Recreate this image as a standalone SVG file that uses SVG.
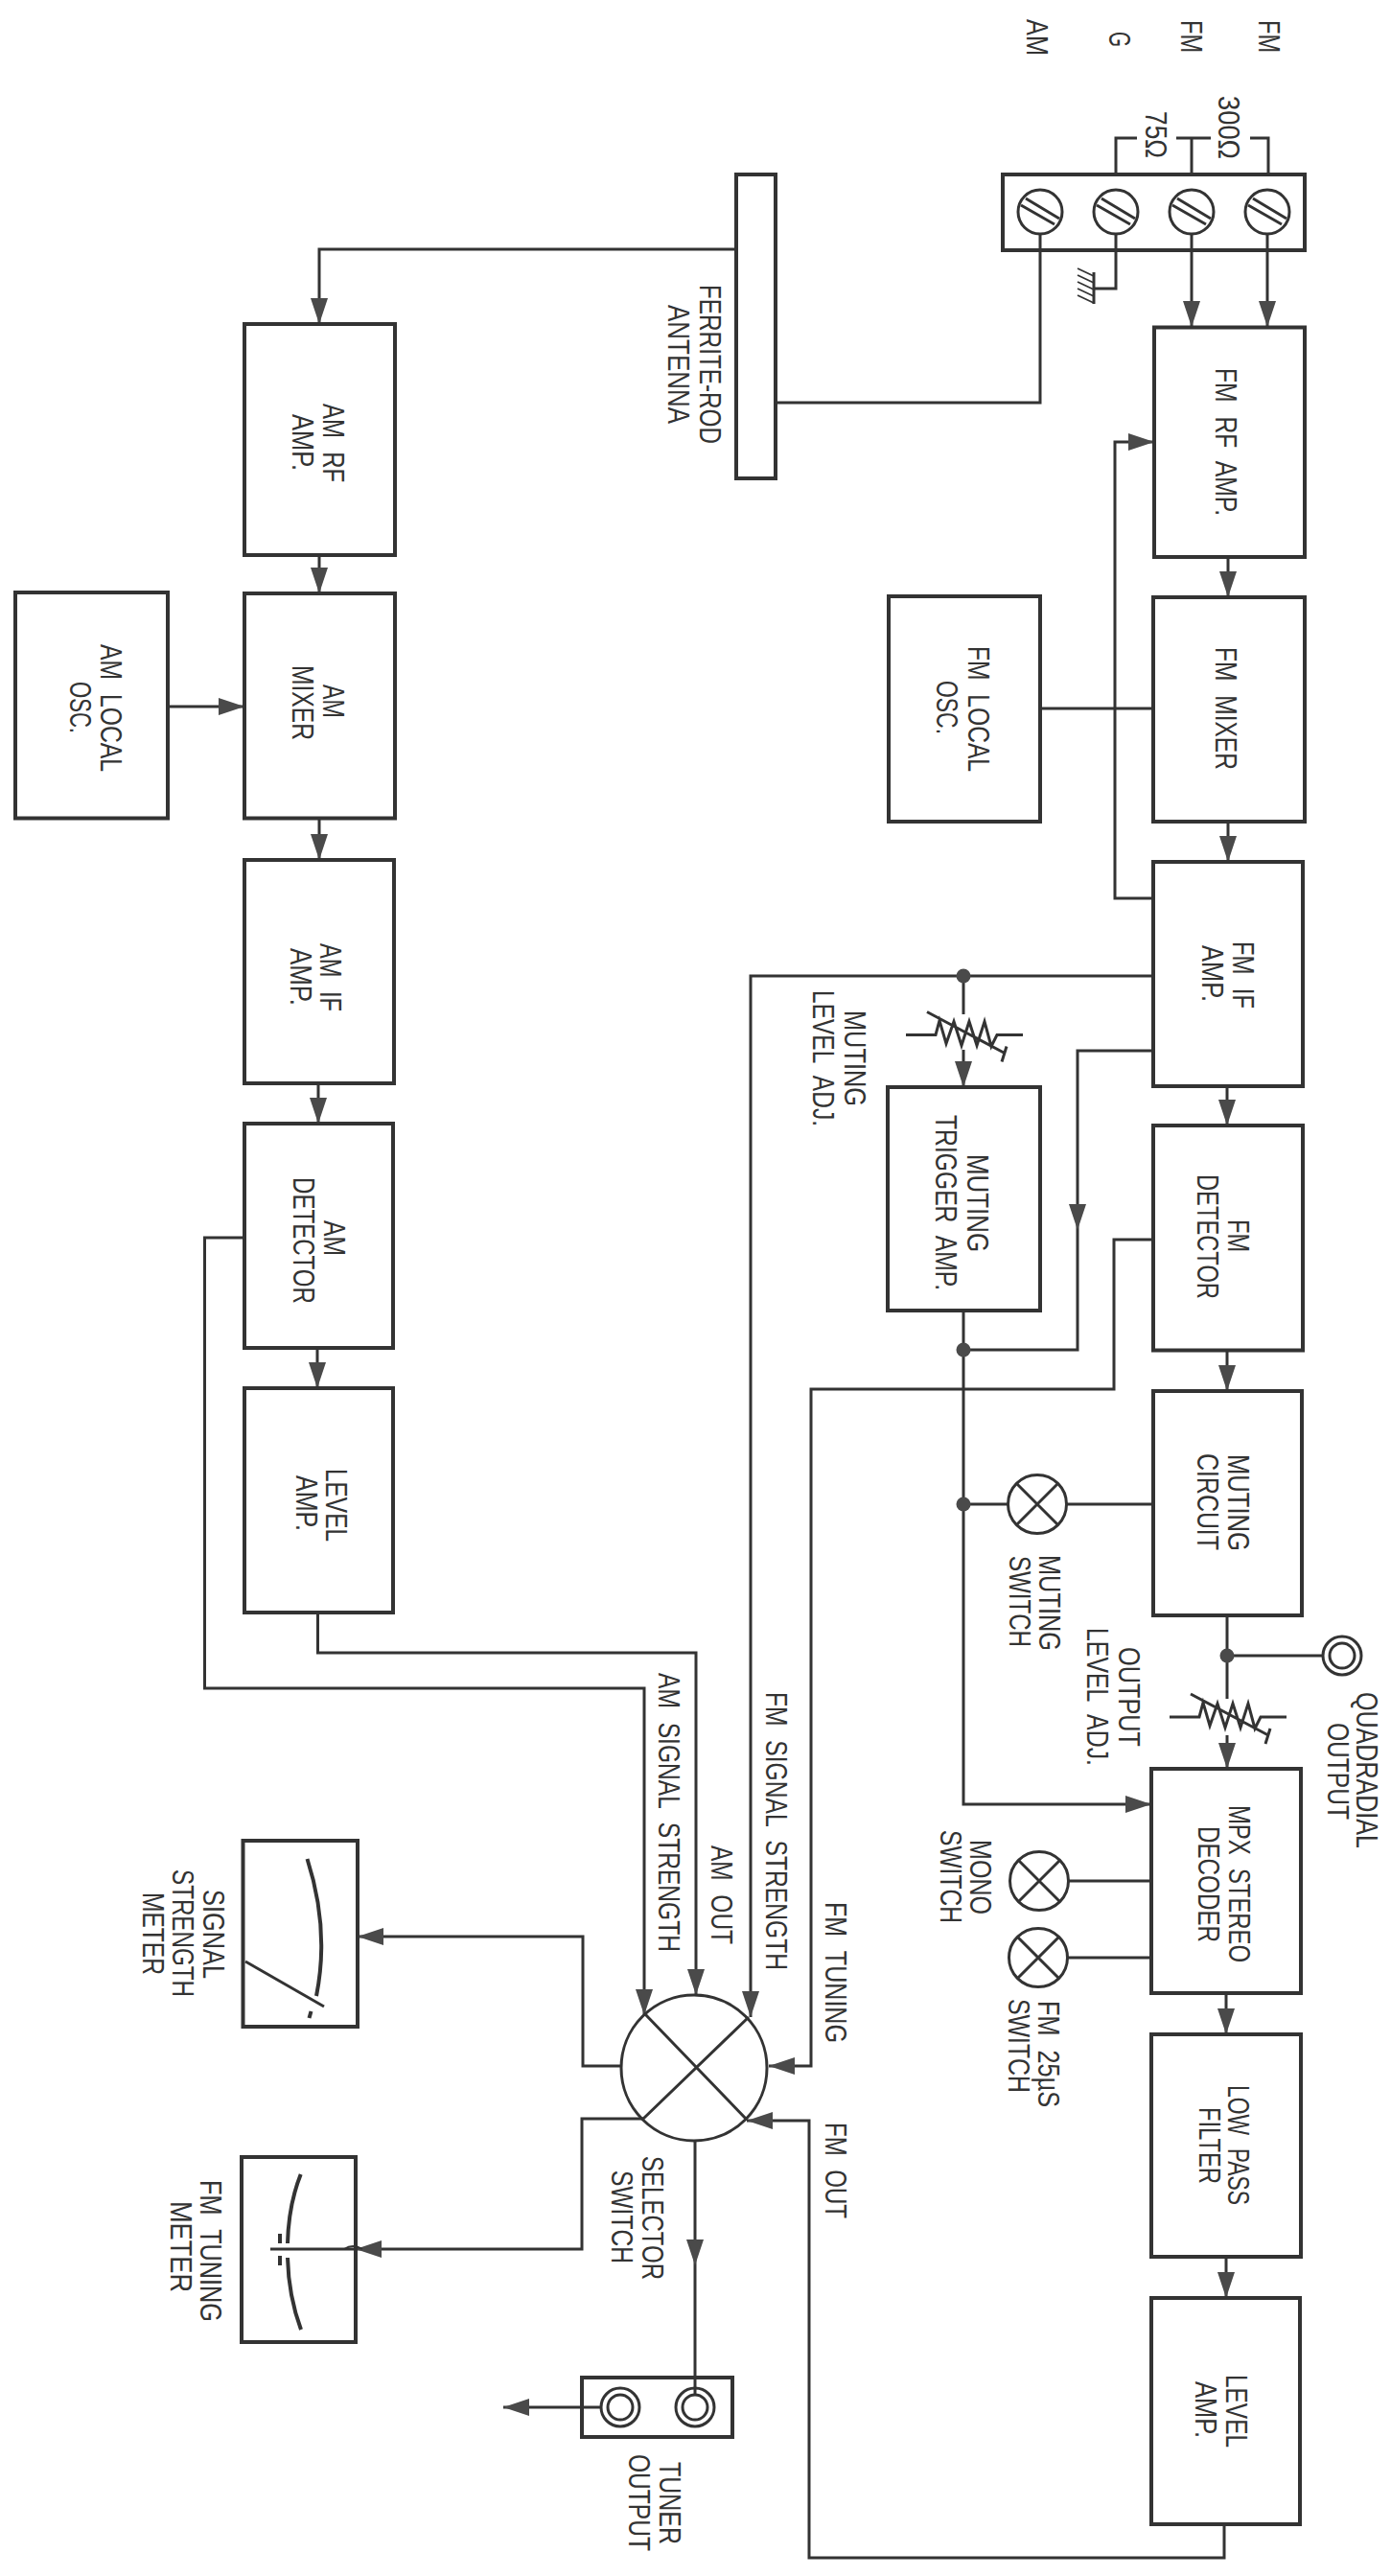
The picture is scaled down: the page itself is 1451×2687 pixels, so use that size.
<svg xmlns="http://www.w3.org/2000/svg" xmlns:xlink="http://www.w3.org/1999/xlink" width="1451" height="2687" viewBox="0 0 1451 2687">
<style>
.b{fill:none;stroke:#333;stroke-width:4}
.w{fill:none;stroke:#333;stroke-width:3}
.a{marker-end:url(#ah)}
.n{fill:none;stroke:#333;stroke-width:1.8}
.m{fill:none;stroke:#333;stroke-width:4}
.d{fill:#4a4a4a;stroke:none}
text{font-family:"Liberation Sans",Arial,sans-serif;font-size:31px;word-spacing:10px;fill:#333}
</style>
<defs>
<marker id="ah" markerUnits="userSpaceOnUse" markerWidth="28" markerHeight="20" refX="27" refY="10" orient="auto"><path d="M0 1L27 10L0 19Z" fill="#4a4a4a"/></marker>
<g id="screw"><circle r="23" class="w"/><path d="M-20 -7L15 13M-15 -14L20 7" class="w"/></g>
<g id="lamp"><circle r="30.5" class="w"/><path d="M-21.500 -21.500L21.500 21.500M21.500 -21.500L-21.500 21.500" class="w"/></g>
<g id="jack"><circle r="20" class="w"/><circle r="13" class="w"/></g>
<g id="res"><path class="w" d="M-60 0H-29L-25 -15L-18 9L-10 -14L-2 11L6 -14L14 11L22 -14L29 12L35 0H62M-38 -24L43 19M45 12L40 28"/></g>
</defs>
<rect width="1451" height="2687" fill="#fff"/>

<g id="connectors">
<path class="w" d="M1164 182V144H1186M1227 144H1263M1304 144H1323V182M1243 144V182"/>
<path class="w" d="M1085 244V420H809"/>
<path class="w" d="M1164 244V301H1141"/>
<path class="w a" d="M1243 244V341"/>
<path class="w a" d="M1322 244V341"/>
<path class="w a" d="M768 260H333V338"/>
<path class="w a" d="M1203 937H1163V461H1204"/>
<path class="w" d="M1085 739H1203"/>
<path class="w a" d="M1281 581V623"/>
<path class="w a" d="M1281 857V899"/>
<path class="w a" d="M1280 1133V1174"/>
<path class="w a" d="M1280 1408V1451"/>
<path class="w" d="M1280 1685V1772"/>
<path class="w a" d="M1280 1810V1845"/>
<path class="w a" d="M1279 2079V2122"/>
<path class="w a" d="M1279 2354V2397"/>
<path class="w a" d="M1203 1018H783V2104"/>
<path class="w" d="M1005 1024V1058"/>
<path class="w a" d="M1005 1095V1134"/>
<path class="w a" d="M1203 1096H1124V1283"/>
<path class="w" d="M1124 1283V1408H1005"/>
<path class="w a" d="M1203 1293H1162V1449H846V2155H802"/>
<path class="w a" d="M1005 1367V1882H1201"/>
<path class="w" d="M1005 1569H1051M1113 1569H1203"/>
<path class="w" d="M1280 1727H1380"/>
<path class="w" d="M1115 1962H1201M1114 2042H1201"/>
<path class="w a" d="M1277 2633V2668H844V2212H779"/>
<path class="w a" d="M333 579V619"/>
<path class="w a" d="M333 853V897"/>
<path class="w a" d="M332 1130V1172"/>
<path class="w a" d="M331 1406V1448"/>
<path class="w a" d="M175 737H255"/>
<path class="w a" d="M255 1291H213.500V1761H672V2102"/>
<path class="w a" d="M331.500 1682V1724H726V2081"/>
<path class="w a" d="M648 2155H608V2020H373"/>
<path class="w a" d="M671 2210H607V2346H371"/>
<path class="w a" d="M725 2233V2363"/>
<path class="w" d="M725 2363V2498"/>
<path class="w a" d="M627 2511H525"/>
</g>

<g id="fm-terminals">
<rect class="b" x="1046" y="182" width="315" height="79"/>
<use xlink:href="#screw" href="#screw" x="1085" y="221"/>
<use xlink:href="#screw" href="#screw" x="1164" y="221"/>
<use xlink:href="#screw" href="#screw" x="1243" y="221"/>
<use xlink:href="#screw" href="#screw" x="1322" y="221"/>
<text transform="translate(1071 20) rotate(90)" textLength="38" lengthAdjust="spacingAndGlyphs">AM</text>
<text transform="translate(1157 33) rotate(90)" textLength="16" lengthAdjust="spacingAndGlyphs">G</text>
<text transform="translate(1232 21) rotate(90)" textLength="34" lengthAdjust="spacingAndGlyphs">FM</text>
<text transform="translate(1313 21) rotate(90)" textLength="34" lengthAdjust="spacingAndGlyphs">FM</text>
<text transform="translate(1271 100) rotate(90)" textLength="66" lengthAdjust="spacingAndGlyphs">300Ω</text>
<text transform="translate(1195 116) rotate(90)" textLength="49" lengthAdjust="spacingAndGlyphs">75Ω</text>
</g>
<g id="ground">
<path class="w" d="M1141 284V317"/>
<path class="n" d="M1141 288L1124 280M1141 295L1124 287M1141 302L1124 294M1141 309L1124 301M1141 316L1124 308"/>
</g>
<g id="ferrite-rod">
<rect class="b" x="768" y="182" width="41" height="317"/>
<text transform="translate(730 297) rotate(90)" textLength="166" lengthAdjust="spacingAndGlyphs">FERRITE-ROD</text>
<text transform="translate(697 318) rotate(90)" textLength="124" lengthAdjust="spacingAndGlyphs">ANTENNA</text>
</g>
<g id="fm-rf-amp">
<rect class="b" x="1204" y="341.500" width="157" height="239.500"/>
<text transform="translate(1268 384) rotate(90)" textLength="154" lengthAdjust="spacingAndGlyphs">FM RF AMP.</text>
</g>
<g id="fm-mixer">
<rect class="b" x="1203" y="623" width="158" height="234"/>
<text transform="translate(1268 675) rotate(90)" textLength="128" lengthAdjust="spacingAndGlyphs">FM MIXER</text>
</g>
<g id="fm-local-osc">
<rect class="b" x="927" y="622" width="158" height="235"/>
<text transform="translate(1010 674) rotate(90)" textLength="131" lengthAdjust="spacingAndGlyphs">FM LOCAL</text>
<text transform="translate(977 710) rotate(90)" textLength="56" lengthAdjust="spacingAndGlyphs">OSC.</text>
</g>
<g id="fm-if-amp">
<rect class="b" x="1203" y="899" width="156" height="234"/>
<text transform="translate(1286 982) rotate(90)" textLength="70" lengthAdjust="spacingAndGlyphs">FM IF</text>
<text transform="translate(1254 986) rotate(90)" textLength="59" lengthAdjust="spacingAndGlyphs">AMP.</text>
</g>
<g id="fm-detector">
<rect class="b" x="1203" y="1174" width="156" height="234.500"/>
<text transform="translate(1281 1272) rotate(90)" textLength="34" lengthAdjust="spacingAndGlyphs">FM</text>
<text transform="translate(1249 1225) rotate(90)" textLength="130" lengthAdjust="spacingAndGlyphs">DETECTOR</text>
</g>
<g id="muting-circuit">
<rect class="b" x="1203" y="1451" width="155" height="234"/>
<text transform="translate(1281 1517) rotate(90)" textLength="101" lengthAdjust="spacingAndGlyphs">MUTING</text>
<text transform="translate(1249 1516) rotate(90)" textLength="101" lengthAdjust="spacingAndGlyphs">CIRCUIT</text>
</g>
<g id="mpx-stereo-decoder">
<rect class="b" x="1201" y="1845" width="156" height="234"/>
<text transform="translate(1282 1883) rotate(90)" textLength="164" lengthAdjust="spacingAndGlyphs">MPX STEREO</text>
<text transform="translate(1250 1905) rotate(90)" textLength="121" lengthAdjust="spacingAndGlyphs">DECODER</text>
</g>
<g id="low-pass-filter">
<rect class="b" x="1201" y="2122" width="156" height="232"/>
<text transform="translate(1281 2175) rotate(90)" textLength="125" lengthAdjust="spacingAndGlyphs">LOW PASS</text>
<text transform="translate(1251 2198) rotate(90)" textLength="80" lengthAdjust="spacingAndGlyphs">FILTER</text>
</g>
<g id="fm-level-amp">
<rect class="b" x="1201" y="2397" width="155" height="236"/>
<text transform="translate(1279 2477) rotate(90)" textLength="76" lengthAdjust="spacingAndGlyphs">LEVEL</text>
<text transform="translate(1247 2484) rotate(90)" textLength="59" lengthAdjust="spacingAndGlyphs">AMP.</text>
</g>
<g id="muting-trigger-amp">
<rect class="b" x="926" y="1134" width="159" height="233"/>
<text transform="translate(1009 1204) rotate(90)" textLength="102" lengthAdjust="spacingAndGlyphs">MUTING</text>
<text transform="translate(976 1163) rotate(90)" textLength="183" lengthAdjust="spacingAndGlyphs">TRIGGER AMP.</text>
</g>
<g id="muting-level-adj">
<use xlink:href="#res" href="#res" x="1005" y="1079.500"/>
<circle class="d" cx="1005" cy="1018" r="7.500"/>
<text transform="translate(881 1054) rotate(90)" textLength="100" lengthAdjust="spacingAndGlyphs">MUTING</text>
<text transform="translate(848 1033) rotate(90)" textLength="142" lengthAdjust="spacingAndGlyphs">LEVEL ADJ.</text>
</g>
<g id="muting-junction"><circle class="d" cx="1005" cy="1408" r="7.500"/></g>
<g id="muting-switch">
<use xlink:href="#lamp" href="#lamp" x="1082" y="1569"/>
<circle class="d" cx="1005" cy="1569" r="7.500"/>
<text transform="translate(1084 1622) rotate(90)" textLength="100" lengthAdjust="spacingAndGlyphs">MUTING</text>
<text transform="translate(1053 1623) rotate(90)" textLength="95" lengthAdjust="spacingAndGlyphs">SWITCH</text>
</g>
<g id="output-level-adj">
<use xlink:href="#res" href="#res" x="1280" y="1791"/>
<circle class="d" cx="1280" cy="1727" r="7.500"/>
<text transform="translate(1167 1718) rotate(90)" textLength="104" lengthAdjust="spacingAndGlyphs">OUTPUT</text>
<text transform="translate(1134 1698) rotate(90)" textLength="144" lengthAdjust="spacingAndGlyphs">LEVEL ADJ.</text>
</g>
<g id="quadradial-output">
<use xlink:href="#jack" href="#jack" x="1400" y="1727"/>
<text transform="translate(1415 1765) rotate(90)" textLength="163" lengthAdjust="spacingAndGlyphs">QUADRADIAL</text>
<text transform="translate(1385 1797) rotate(90)" textLength="101" lengthAdjust="spacingAndGlyphs">OUTPUT</text>
</g>
<g id="mono-switch">
<use xlink:href="#lamp" href="#lamp" x="1084" y="1962"/>
<text transform="translate(1012 1919) rotate(90)" textLength="78" lengthAdjust="spacingAndGlyphs">MONO</text>
<text transform="translate(981 1909) rotate(90)" textLength="97" lengthAdjust="spacingAndGlyphs">SWITCH</text>
</g>
<g id="fm-25us-switch">
<use xlink:href="#lamp" href="#lamp" x="1083" y="2042"/>
<text transform="translate(1083 2087) rotate(90)" textLength="111" lengthAdjust="spacingAndGlyphs">FM 25µS</text>
<text transform="translate(1052 2085) rotate(90)" textLength="98" lengthAdjust="spacingAndGlyphs">SWITCH</text>
</g>
<g id="am-rf-amp">
<rect class="b" x="255" y="338" width="157" height="241"/>
<text transform="translate(337 421) rotate(90)" textLength="82" lengthAdjust="spacingAndGlyphs">AM RF</text>
<text transform="translate(305 432) rotate(90)" textLength="59" lengthAdjust="spacingAndGlyphs">AMP.</text>
</g>
<g id="am-mixer">
<rect class="b" x="255" y="619" width="157" height="234.500"/>
<text transform="translate(337 714) rotate(90)" textLength="35" lengthAdjust="spacingAndGlyphs">AM</text>
<text transform="translate(305 694) rotate(90)" textLength="78" lengthAdjust="spacingAndGlyphs">MIXER</text>
</g>
<g id="am-local-osc">
<rect class="b" x="16" y="618" width="159" height="235.500"/>
<text transform="translate(105 672) rotate(90)" textLength="133" lengthAdjust="spacingAndGlyphs">AM LOCAL</text>
<text transform="translate(73 711) rotate(90)" textLength="54" lengthAdjust="spacingAndGlyphs">OSC.</text>
</g>
<g id="am-if-amp">
<rect class="b" x="255" y="897" width="156" height="233"/>
<text transform="translate(334 984) rotate(90)" textLength="71" lengthAdjust="spacingAndGlyphs">AM IF</text>
<text transform="translate(303 989) rotate(90)" textLength="60" lengthAdjust="spacingAndGlyphs">AMP.</text>
</g>
<g id="am-detector">
<rect class="b" x="255" y="1172" width="155" height="234"/>
<text transform="translate(338 1273) rotate(90)" textLength="37" lengthAdjust="spacingAndGlyphs">AM</text>
<text transform="translate(306 1228) rotate(90)" textLength="132" lengthAdjust="spacingAndGlyphs">DETECTOR</text>
</g>
<g id="am-level-amp">
<rect class="b" x="255" y="1448" width="155" height="234"/>
<text transform="translate(340 1532) rotate(90)" textLength="76" lengthAdjust="spacingAndGlyphs">LEVEL</text>
<text transform="translate(308.500 1539) rotate(90)" textLength="58" lengthAdjust="spacingAndGlyphs">AMP.</text>
</g>
<g id="signal-labels">
<text transform="translate(687 1745) rotate(90)" textLength="291" lengthAdjust="spacingAndGlyphs">AM SIGNAL STRENGTH</text>
<text transform="translate(742 1925) rotate(90)" textLength="103" lengthAdjust="spacingAndGlyphs">AM OUT</text>
<text transform="translate(799 1765) rotate(90)" textLength="290" lengthAdjust="spacingAndGlyphs">FM SIGNAL STRENGTH</text>
<text transform="translate(861 1984) rotate(90)" textLength="147" lengthAdjust="spacingAndGlyphs">FM TUNING</text>
<text transform="translate(861 2214) rotate(90)" textLength="100" lengthAdjust="spacingAndGlyphs">FM OUT</text>
</g>
<g id="selector-switch">
<circle class="w" cx="724" cy="2157" r="76"/>
<path class="w" d="M673 2101L779 2211M781 2104L671 2210"/>
<text transform="translate(670 2249) rotate(90)" textLength="129" lengthAdjust="spacingAndGlyphs">SELECTOR</text>
<text transform="translate(638 2264) rotate(90)" textLength="97" lengthAdjust="spacingAndGlyphs">SWITCH</text>
</g>
<g id="signal-strength-meter">
<rect class="b" x="253.500" y="1920" width="119.500" height="194"/>
<path class="m" d="M320.500 1939Q344 2012 330 2082"/>
<path class="m" d="M324.500 2098L322.500 2105"/>
<path class="w" d="M256 2046L338 2093"/>
<text transform="translate(212 1971) rotate(90)" textLength="93" lengthAdjust="spacingAndGlyphs">SIGNAL</text>
<text transform="translate(180 1950) rotate(90)" textLength="133" lengthAdjust="spacingAndGlyphs">STRENGTH</text>
<text transform="translate(149 1974) rotate(90)" textLength="86" lengthAdjust="spacingAndGlyphs">METER</text>
</g>
<g id="fm-tuning-meter">
<rect class="b" x="252" y="2250" width="119" height="193"/>
<path class="m" d="M313.700 2268Q301 2300 300 2340M300 2355Q301 2395 314 2430"/>
<path class="m" d="M292 2330V2340M292 2353V2363"/>
<path class="w" d="M282 2346H371"/>
<path class="n" d="M359 2346Q368 2340 378 2346"/>
<text transform="translate(209 2274) rotate(90)" textLength="148" lengthAdjust="spacingAndGlyphs">FM TUNING</text>
<text transform="translate(178 2296) rotate(90)" textLength="95" lengthAdjust="spacingAndGlyphs">METER</text>
</g>
<g id="tuner-output">
<rect class="b" x="607" y="2480" width="157" height="62"/>
<use xlink:href="#jack" href="#jack" x="725" y="2511"/>
<use xlink:href="#jack" href="#jack" x="647" y="2511"/>
<text transform="translate(688 2568) rotate(90)" textLength="86" lengthAdjust="spacingAndGlyphs">TUNER</text>
<text transform="translate(656 2560) rotate(90)" textLength="101" lengthAdjust="spacingAndGlyphs">OUTPUT</text>
</g>
</svg>
